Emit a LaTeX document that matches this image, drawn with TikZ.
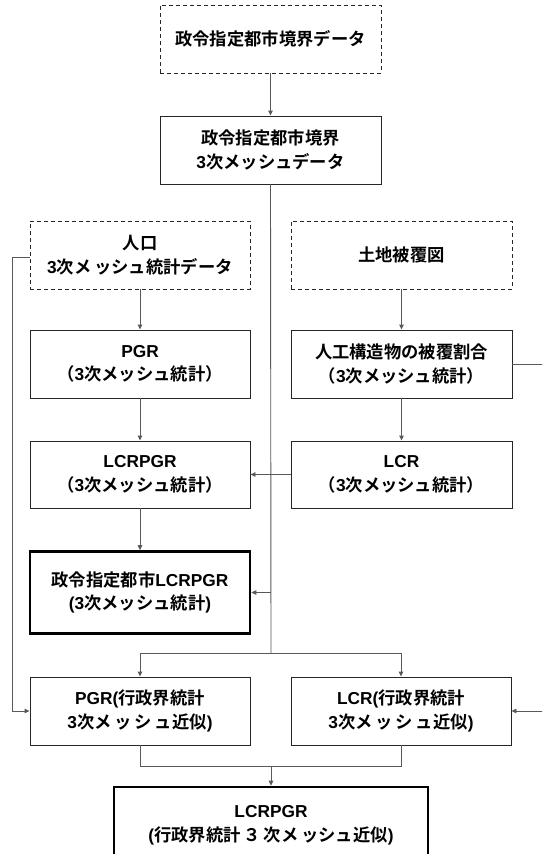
\documentclass[tikz,border=0pt]{standalone}
\usepackage{fontspec}
\newfontfamily\jp{Noto Sans CJK JP}[BoldFont={* Bold}]
\newfontfamily\lat{Liberation Sans}
\usetikzlibrary{arrows.meta}
\newcommand{\La}[1]{{\lat\bfseries #1}}
\begin{document}
\begin{tikzpicture}[x=1pt,y=-1pt,
  every node/.style={font=\jp\bfseries\fontsize{17.3}{23.5}\selectfont, align=center, inner sep=0pt},
  box/.style={draw=black!85, line width=0.9pt, minimum width=220pt, minimum height=68pt},
  dbox/.style={box, dash pattern=on 4pt off 3pt},
  bbox/.style={draw=black, line width=2.6pt, minimum width=220pt, minimum height=82pt},
  conn/.style={draw=black!65, line width=0.9pt},
  arr/.style={conn, -{Triangle[length=5pt,width=4.5pt]}}]
\useasboundingbox (0,0) rectangle (542,854);
\clip (0,0) rectangle (542,854);
\node[dbox, minimum width=221pt] (top) at (270.5,39) {政令指定都市境界データ};
\node[box, minimum width=221pt] (b2) at (270.5,150) {政令指定都市境界\\\La{3}次メッシュデータ};
\node[dbox] (pop) at (140,255) {人口\\\La{3}次メ\,ッシュ統計データ};
\node[dbox, minimum width=221pt] (land) at (401.5,255) {土地被覆図};
\node[box] (pgr) at (140,364) {\La{PGR}\\（\La{3}次メッシュ統計）};
\node[box, minimum width=221pt] (art) at (401.5,364) {人工構造物の被覆割合\\（\La{3}次メッシュ統計）};
\node[box, minimum height=67pt] (lcrpgr) at (140,474.5) {\La{LCRPGR}\\（\La{3}次メッシュ統計）};
\node[box, minimum width=221pt, minimum height=67pt] (lcr) at (401.5,474.5) {\La{LCR}\\（\La{3}次メッシュ統計）};
\node[bbox, minimum height=82pt] (city) at (140,592.5) {政令指定都市\La{LCRPGR}\\\La{(3}次メッシュ統計\La{)}};
\node[box] (pgra) at (140,711) {\La{PGR(}行政界統計\\\La{3}次メ\,ッ\,シ\,ュ近似\La{)}};
\node[box] (lcra) at (401,711) {\La{LCR(}行政界統計\\\La{3}次メ\,ッ\,シ\,ュ近似\La{)}};
\node[bbox, minimum width=314pt, minimum height=76pt] (final) at (271,825) {\La{LCRPGR}\\\La{(}行政界統計\,３\,次メ\,ッシュ近似\La{)}};
\coordinate (j) at (271,653);
\coordinate (m) at (271,766);
\coordinate (ll) at (12,257);
\coordinate (rr) at (560,364);
\draw[arr] (top) -- (b2);
\draw[conn] (b2.south) -- (j);
\draw[arr] (b2.south |- city.east) -- (city.east);
\draw[arr] (j) -| (pgra.north);
\draw[arr] (j) -| (lcra.north);
\draw[arr] (pop) -- (pgr);
\draw[arr] (pgr) -- (lcrpgr);
\draw[arr] (lcrpgr) -- (city);
\draw[arr] (land) -- (art);
\draw[arr] (art) -- (lcr);
\draw[arr] (lcr) -- (lcrpgr);
\draw[arr] (pop.west |- ll) -- (ll) |- (pgra.west);
\draw[arr] (art.east) -- (rr) |- (lcra.east);
\draw[conn] (pgra.south) |- (m) -| (lcra.south);
\draw[arr] (m) -- (final.north);
\end{tikzpicture}
\end{document}
